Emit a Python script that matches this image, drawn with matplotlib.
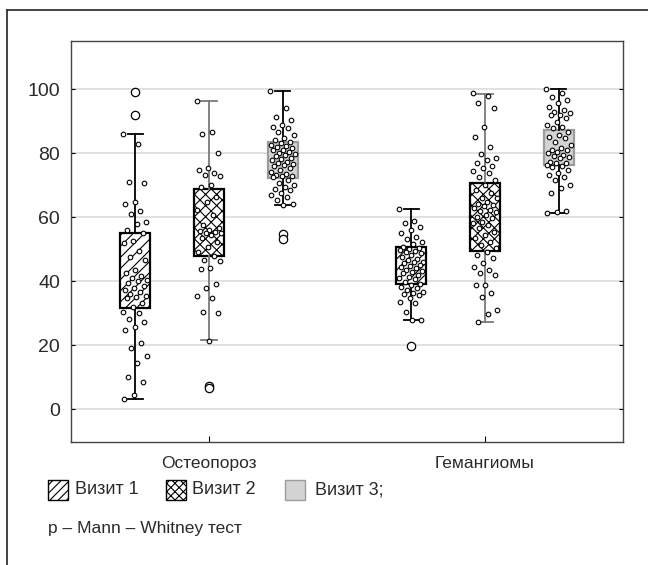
import matplotlib
matplotlib.use('Agg')
from matplotlib import pyplot as plt
from matplotlib.patches import Rectangle
from matplotlib.lines import Line2D
import numpy as np

plt.rcParams['font.family'] = ['Liberation Sans', 'DejaVu Sans']
plt.rcParams['hatch.linewidth'] = 0.8

groups = ['Остеопороз', 'Гемангиомы']
visits = ['Визит 1', 'Визит 2', 'Визит 3;']
footnote = 'p – Mann – Whitney тест'

# box statistics, order: osteo v1..v3, hemang v1..v3
q1 = [31.7, 47.8, 72.1, 39.0, 49.3, 76.2]
q3 = [55.1, 68.7, 83.3, 50.5, 70.7, 87.2]
med = [41.0, 55.0, 78.5, 45.0, 62.0, 81.0]
whislo = [3.0, 21.5, 63.7, 27.7, 27.3, 61.3]
whishi = [86.0, 96.2, 99.4, 62.4, 98.4, 100.0]
fliers = [[99.2, 92.0], [7.2, 6.6], [54.6, 53.2], [19.8], [], []]

# individual observations
osteo_v1 = [85.8, 82.7, 71.0, 70.5, 64.6, 64.2, 61.9, 61.0, 58.3, 57.9, 55.9, 54.9,
            52.5, 52.0, 49.4, 47.5, 46.6, 43.5, 42.4, 41.7, 40.8, 40.3, 40.0, 39.3,
            38.5, 37.7, 37.2, 36.7, 36.0, 35.4, 35.0, 34.6, 33.0, 32.0, 30.4, 29.9,
            28.0, 27.3, 25.5, 24.7, 20.5, 19.0, 16.6, 14.5, 10.1, 8.5, 4.4, 3.1]
osteo_v2 = [96.2, 86.5, 85.8, 79.9, 75.2, 74.8, 73.6, 73.1, 72.8, 70.0, 69.5, 66.4,
            64.8, 62.2, 60.6, 57.5, 56.5, 55.9, 55.6, 55.4, 55.1, 54.9, 54.5, 53.3,
            52.3, 50.7, 49.2, 47.8, 46.6, 46.3, 44.0, 43.8, 39.0, 37.9, 35.4, 34.8,
            30.4, 30.1, 21.4]
osteo_v3 = [99.4, 94.0, 91.4, 90.3, 88.7, 88.2, 87.7, 86.7, 85.6, 84.6, 84.0, 83.5,
            83.0, 82.5, 82.3, 82.0, 81.5, 81.0, 80.8, 80.4, 80.0, 79.8, 79.4, 79.0,
            78.3, 78.0, 77.8, 77.3, 76.8, 76.5, 76.2, 75.8, 75.2, 74.8, 74.2, 73.5,
            73.2, 72.9, 72.7, 72.5, 71.6, 70.5, 70.0, 69.5, 68.8, 68.4, 67.4, 67.0,
            66.4, 65.3, 64.0, 63.8]
hem_v1 = [62.4, 58.7, 58.0, 57.0, 55.9, 54.9, 53.9, 53.1, 52.3, 51.5, 50.7, 50.2,
          50.0, 49.7, 49.5, 49.2, 48.7, 48.1, 47.6, 47.0, 46.6, 46.1, 45.8, 45.5,
          45.0, 44.8, 44.5, 44.0, 43.5, 43.0, 42.9, 42.4, 41.9, 41.4, 40.8, 40.5,
          39.8, 39.0, 38.7, 38.2, 37.8, 37.2, 36.7, 36.4, 36.1, 35.6, 34.6, 33.5,
          33.0, 30.4, 27.9, 27.7]
hem_v2 = [98.6, 97.9, 95.5, 94.2, 88.2, 85.1, 82.0, 79.6, 78.5, 77.8, 76.8, 76.0,
          75.2, 74.4, 73.6, 72.6, 71.6, 70.0, 68.4, 67.4, 66.0, 65.8, 64.8, 64.0,
          63.7, 63.3, 62.7, 62.2, 62.0, 61.7, 60.6, 60.0, 59.6, 58.5, 58.0, 57.5,
          56.5, 55.4, 54.4, 53.3, 52.3, 51.2, 50.2, 49.2, 48.1, 47.1, 45.5, 44.5,
          43.4, 42.4, 41.9, 38.9, 38.7, 36.3, 34.9, 30.9, 29.6, 27.3]
hem_v3 = [100.0, 98.6, 97.6, 96.6, 95.5, 94.5, 93.4, 92.7, 92.4, 92.0, 91.9, 90.8,
          89.8, 88.7, 88.0, 87.7, 86.7, 85.6, 85.1, 84.6, 83.5, 82.5, 81.5, 81.0,
          80.9, 80.4, 80.0, 79.4, 79.0, 78.8, 78.3, 77.3, 77.0, 76.8, 76.2, 76.0,
          75.7, 74.7, 73.6, 73.0, 72.6, 71.6, 70.0, 69.0, 67.4, 61.9, 61.6, 61.4]
points = [osteo_v1, osteo_v2, osteo_v3, hem_v1, hem_v2, hem_v3]

hatches = ['///', 'xxx', None]
faces = ['white', 'white', '#d3d3d3']
edges = ['black', 'black', '#9c9c9c']
whisk = ['black', '#7a7a7a', 'black']
offset = [-0.267, 0.0, 0.267]
txt = '#2a2a2a'

fig = plt.figure(figsize=(6.48, 5.65), dpi=100)
ax = fig.add_axes([71/648, 1-442/565, 552/648, 401/565])

for i in range(6):
    g, v = i // 3, i % 3
    pos = g + offset[v]
    st = dict(q1=q1[i], q3=q3[i], med=med[i], whislo=whislo[i], whishi=whishi[i],
              fliers=fliers[i])
    bp = ax.bxp([st], positions=[pos], widths=0.108, patch_artist=True,
                showcaps=True, showfliers=True,
                boxprops=dict(facecolor=faces[v], edgecolor=edges[v], linewidth=1.6),
                whiskerprops=dict(color=whisk[v], linewidth=1.3),
                capprops=dict(color=whisk[v], linewidth=1.3),
                medianprops=dict(linewidth=0),
                flierprops=dict(marker='o', markerfacecolor='white', markeredgecolor='black',
                                markersize=6, markeredgewidth=0.9))
    for b in bp['boxes']:
        if hatches[v]:
            b.set_hatch(hatches[v])
        b.set_zorder(2)
    for c in bp['caps']:
        c.set_xdata([pos - 0.028, pos + 0.028])
    # jittered raw observations (deterministic spread)
    y = np.array(points[i])
    k = np.arange(len(y))
    jit = ((k * 0.6180339) % 1.0 - 0.5) * 0.09
    ax.scatter(pos + jit, y, s=11, facecolors='white', edgecolors='black',
               linewidths=0.8, zorder=4)

ax.set_xlim(-0.5, 1.5)
ax.set_ylim(-10.3, 115)
ax.set_xticks([0, 1])
ax.set_xticklabels(groups)
ax.set_yticks([0, 20, 40, 60, 80, 100])
ax.yaxis.grid(True, color='#dcdcdc', linewidth=1.2, zorder=0)
ax.set_axisbelow(True)
ax.tick_params(axis='y', direction='in', length=3, right=True, labelsize=14,
               labelcolor=txt, pad=8)
ax.tick_params(axis='x', direction='in', length=4, labelsize=12.5,
               labelcolor=txt, pad=10)
for s in ax.spines.values():
    s.set_color('#444444')
    s.set_linewidth(1.0)

# legend below the plot
W, H = 648, 565
lx = [48, 166, 285]
tx = [75, 192, 315]
leg_hatch = ['////', 'xxxx', None]
for v in range(3):
    r = Rectangle((lx[v]/W, 1-500/H), 20/W, 20/H, transform=fig.transFigure,
                  facecolor=faces[v], edgecolor=edges[v] if v == 2 else 'black',
                  linewidth=1.0, hatch=leg_hatch[v])
    fig.add_artist(r)
    fig.text(tx[v]/W, 1-490/H, visits[v], fontsize=13, color=txt, va='center')
fig.text(48/W, 1-528/H, footnote, fontsize=12.5, color=txt, va='center')

# outer frame
fig.add_artist(Line2D([7/W, 7/W], [0, 1-10/H], transform=fig.transFigure,
                      color='#333333', linewidth=1.3))
fig.add_artist(Line2D([7/W, 1], [1-10/H, 1-10/H], transform=fig.transFigure,
                      color='#333333', linewidth=1.3))

fig.savefig('out.png', dpi=100)
